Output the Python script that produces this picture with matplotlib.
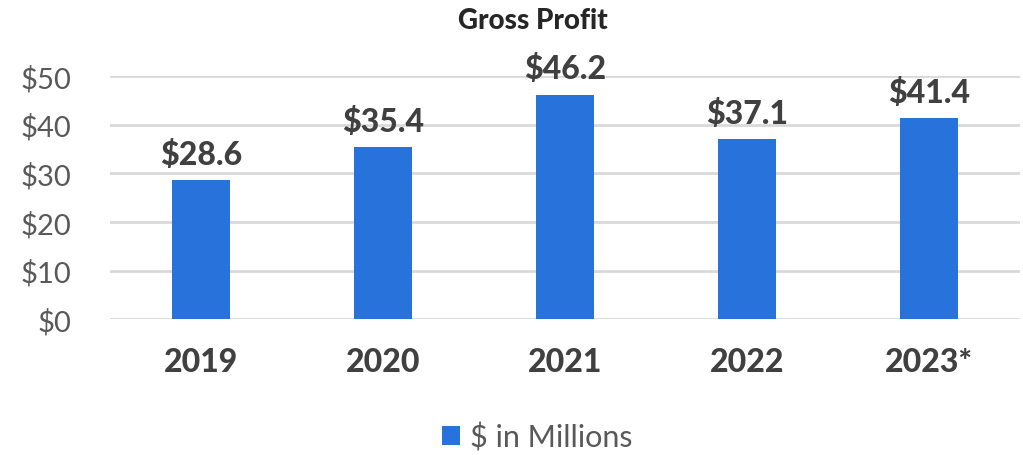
import matplotlib.pyplot as plt
import numpy as np

years = ['2019', '2020', '2021', '2022', '2023*']
profit = [28.6, 35.4, 46.2, 37.1, 41.4]
yticks = [0, 10, 20, 30, 40, 50]

plt.rcParams['font.family'] = ['Lato', 'DejaVu Sans']

fig = plt.figure(figsize=(10.23, 4.56), dpi=100)
ax = fig.add_axes([0.1075, 0.298, 0.8895, 0.533])

x = np.arange(len(years))
bars = ax.bar(x, profit, 0.32, color='#2872DB', label='$ in Millions', zorder=3)

for xi, v in zip(x, profit):
    ax.annotate(f'${v:.1f}', xy=(xi, v), xytext=(0, 8), textcoords='offset points',
                ha='center', va='bottom', fontsize=23, fontweight='black', color='#404040')

ax.set_xlim(-0.5, len(years) - 0.5)
ax.set_ylim(0, 50)
ax.set_yticks(yticks)
ax.set_yticklabels([f'${t}' for t in yticks], fontsize=21, color='#595959')
ax.set_xticks(x)
ax.set_xticklabels(years, fontsize=23, fontweight='black', color='#404040')
ax.tick_params(axis='x', length=0, pad=20)
ax.tick_params(axis='y', length=0, pad=28)
ax.yaxis.grid(True, color='#D9D9D9', linewidth=2, zorder=0)
for s in ax.spines.values():
    s.set_visible(False)

fig.text(0.521, 0.955, 'Gross Profit', ha='center', va='center',
         fontsize=20, fontweight='black', color='#262626')

fig.legend(loc='center', bbox_to_anchor=(0.525, 0.04), frameon=False,
           fontsize=22, handlelength=0.6, handleheight=0.6, handletextpad=0.3,
           labelcolor='#595959')

plt.savefig('out.png')
